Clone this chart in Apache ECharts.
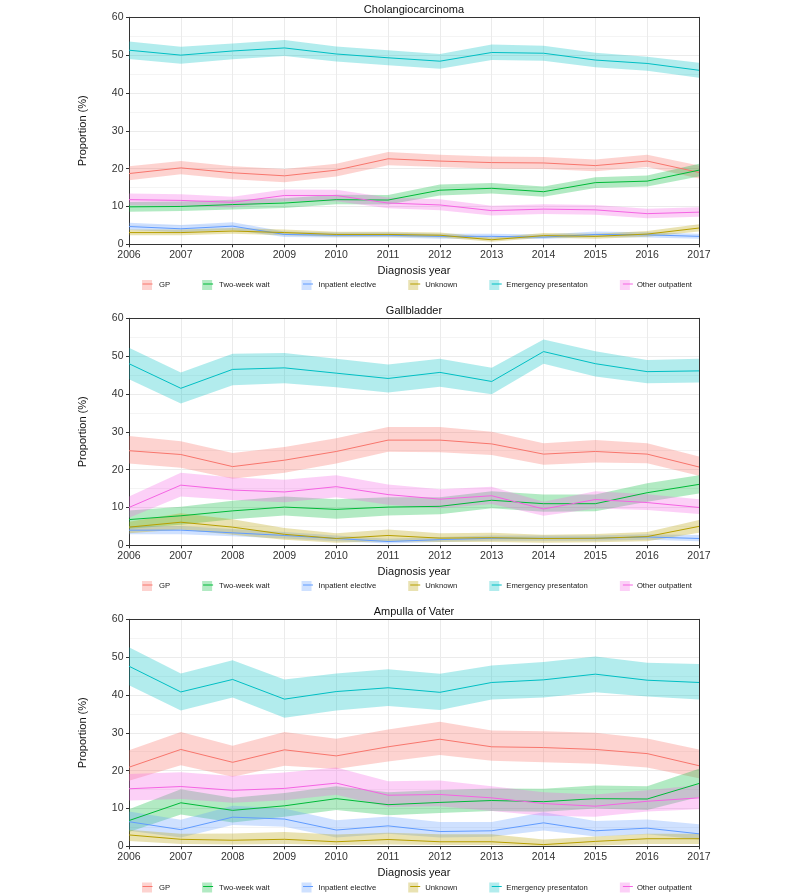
<!DOCTYPE html>
<html>
<head>
<meta charset="utf-8">
<script src="https://cdn.jsdelivr.net/npm/echarts@6/dist/echarts.min.js"></script>
<style>html,body{margin:0;padding:0;background:#fff}#c{width:787px;height:896px}</style>
</head>
<body>
<div id="c"></div>
<script>
const years = ['2006','2007','2008','2009','2010','2011','2012','2013','2014','2015','2016','2017'];
const categories = ['GP','Two-week wait','Inpatient elective','Unknown','Emergency presentaton','Other outpatient'];
const panelTitles = ['Cholangiocarcinoma','Gallbladder','Ampulla of Vater'];
const yTicks = [0,10,20,30,40,50,60];

// Cholangiocarcinoma
const cholGP     = [18.7,20.2,18.9,18.1,19.6,22.6,22.0,21.6,21.5,20.8,22.0,19.0];
const cholGPHi   = [20.6,22.0,20.6,19.9,21.3,24.4,23.7,23.2,23.1,22.4,23.7,20.8];
const cholGPLo   = [16.9,18.5,17.2,16.4,17.9,20.9,20.4,20.0,19.9,19.3,20.4,17.4];
const cholTWW    = [9.9,10.0,10.5,10.9,11.8,11.7,14.3,14.8,13.9,16.3,16.7,19.6];
const cholTWWHi  = [11.2,11.3,11.8,12.2,13.1,13.0,15.8,16.2,15.3,17.7,18.2,21.3];
const cholTWWLo  = [8.6,8.8,9.2,9.6,10.6,10.5,12.9,13.4,12.6,14.9,15.3,17.9];
const cholIE     = [4.7,4.1,4.8,2.6,2.4,2.4,2.1,2.1,1.9,2.6,2.5,2.1];
const cholIEHi   = [5.7,5.1,5.8,3.4,3.1,3.1,2.8,2.8,2.6,3.4,3.2,2.8];
const cholIELo   = [3.8,3.2,3.8,1.9,1.8,1.8,1.5,1.5,1.4,1.9,1.8,1.5];
const cholUNK    = [3.1,3.1,3.5,3.1,2.6,2.6,2.4,1.2,2.3,2.1,2.7,4.3];
const cholUNKHi  = [3.9,3.9,4.3,3.9,3.3,3.3,3.1,1.8,3.0,2.8,3.5,5.3];
const cholUNKLo  = [2.4,2.4,2.8,2.4,2.0,2.0,1.8,0.7,1.7,1.5,2.0,3.4];
const cholEP     = [51.3,50.0,51.1,51.9,50.3,49.3,48.4,50.7,50.5,48.7,47.8,46.0];
const cholEPHi   = [53.6,52.2,53.1,54.0,52.3,51.3,50.3,52.8,52.5,50.6,49.6,48.0];
const cholEPLo   = [49.0,47.7,48.9,49.8,48.3,47.3,46.4,48.7,48.5,46.8,45.9,44.0];
const cholOO     = [11.8,11.6,11.1,12.9,12.9,10.9,10.4,8.9,9.3,9.1,8.1,8.5];
const cholOOHi   = [13.4,13.2,12.6,14.5,14.4,12.4,11.9,10.2,10.6,10.4,9.4,9.8];
const cholOOLo   = [10.3,10.1,9.7,11.4,11.4,9.5,9.0,7.6,8.0,7.8,6.9,7.3];

// Gallbladder
const gallGP     = [25.0,24.0,20.8,22.5,24.8,27.8,27.8,26.8,24.1,24.8,24.1,20.7];
const gallGPHi   = [28.9,27.5,24.4,26.0,28.3,31.3,31.3,30.0,27.0,27.8,27.0,23.5];
const gallGPLo   = [21.6,20.5,17.6,19.2,21.6,24.7,24.6,23.9,21.3,21.9,21.7,18.4];
const gallTWW    = [6.8,7.8,9.1,10.1,9.5,10.1,10.3,11.9,11.0,11.0,13.9,16.1];
const gallTWWHi  = [9.2,10.2,11.8,12.9,12.2,12.7,12.7,14.3,13.4,13.4,16.4,18.5];
const gallTWWLo  = [4.4,5.4,6.9,7.9,7.0,7.9,8.2,9.8,8.9,9.0,11.5,13.7];
const gallIE     = [4.0,4.0,3.3,2.6,1.8,1.0,1.5,1.85,1.85,1.85,2.2,1.8];
const gallIEHi   = [5.1,5.1,4.3,3.5,2.6,1.7,2.2,2.6,2.6,2.6,2.9,2.7];
const gallIELo   = [2.9,2.9,2.4,1.8,1.1,0.5,0.9,1.2,1.2,1.2,1.5,1.1];
const gallUNK    = [4.8,6.1,4.8,2.9,1.8,2.6,1.9,2.0,1.8,1.85,2.3,5.0];
const gallUNKHi  = [6.2,8.5,6.9,4.6,3.2,4.2,3.2,3.3,2.8,3.0,3.5,6.7];
const gallUNKLo  = [3.2,4.2,2.8,1.5,0.7,1.1,0.9,0.9,0.7,0.8,1.1,3.3];
const gallEP     = [48.0,41.5,46.5,46.9,45.5,44.1,45.7,43.3,51.2,48.0,45.9,46.1];
const gallEPHi   = [52.2,45.7,50.6,50.8,49.3,47.8,49.3,46.9,54.4,51.3,49.0,49.3];
const gallEPLo   = [43.9,37.5,42.3,42.8,41.8,40.4,41.9,39.9,48.0,44.6,42.8,43.0];
const gallOO     = [10.0,15.9,14.6,14.1,15.5,13.4,12.2,13.1,9.6,12.1,11.3,10.0];
const gallOOHi   = [12.9,19.2,17.9,17.3,18.5,16.1,14.8,15.5,11.5,14.3,13.5,12.2];
const gallOOLo   = [7.3,12.9,12.0,11.4,12.7,10.7,9.8,10.9,7.8,9.7,9.3,8.3];

// Ampulla of Vater
const ampGP      = [20.9,25.6,22.2,25.5,23.9,26.3,28.3,26.3,26.1,25.6,24.5,21.3];
const ampGPHi    = [25.4,30.2,26.6,30.2,28.4,30.9,32.9,30.6,30.4,30.0,28.5,25.6];
const ampGPLo    = [17.3,21.4,18.4,21.3,20.4,22.4,24.1,22.6,22.2,21.8,20.8,18.0];
const ampTWW     = [6.8,11.5,9.5,10.7,12.6,11.0,11.6,12.1,11.8,12.6,12.5,16.6];
const ampTWWHi   = [9.8,15.1,12.8,14.1,15.9,14.3,14.9,15.3,15.2,16.1,15.9,20.5];
const ampTWWLo   = [3.8,8.4,6.3,7.8,9.6,8.2,8.8,9.3,9.1,10.0,9.6,13.0];
const ampIE      = [6.5,4.4,7.7,7.2,4.3,5.4,3.9,4.1,6.2,4.1,4.8,3.3];
const ampIEHi    = [9.2,7.0,10.7,10.0,6.9,7.9,6.4,6.4,9.0,6.7,7.1,5.8];
const ampIELo    = [4.1,2.3,5.6,5.2,2.3,3.3,2.3,2.5,4.2,2.6,3.2,1.8];
const ampUNK     = [3.0,1.85,1.6,1.85,1.2,1.8,1.2,1.2,0.45,1.3,2.0,2.0];
const ampUNKHi   = [4.4,3.3,3.4,3.8,3.1,3.6,3.2,3.2,1.8,2.6,3.3,3.3];
const ampUNKLo   = [1.4,0.6,0.5,0.6,0.35,0.45,0.35,0.35,0.0,0.2,0.6,0.6];
const ampEP      = [47.6,40.8,44.1,38.9,40.9,41.9,40.7,43.3,44.0,45.5,43.9,43.3];
const ampEPHi    = [52.6,45.7,49.2,44.1,45.7,46.8,45.6,47.8,48.7,50.2,48.5,48.2];
const ampEPLo    = [42.6,35.9,39.3,34.0,35.9,37.1,36.0,38.8,39.3,40.7,39.6,38.8];
const ampOO      = [15.2,15.8,14.8,15.3,16.7,13.5,13.7,12.8,11.3,10.6,11.9,12.8];
const ampOOHi    = [19.1,19.6,18.6,19.5,20.8,17.2,17.4,15.9,14.3,13.7,14.8,16.2];
const ampOOLo    = [12.1,12.5,11.5,12.2,13.6,10.4,10.6,9.3,8.1,7.8,9.2,9.8];

const lineColors = ['#F8766D','#00BA38','#619CFF','#B79F00','#00BFC4','#F564E3'];
const bandColors = ['rgba(248,118,109,0.32)','rgba(0,186,56,0.3)','rgba(97,156,255,0.3)','rgba(183,159,0,0.3)','rgba(0,191,196,0.3)','rgba(245,100,227,0.3)'];

const panels = [
  { mid:[cholGP,cholTWW,cholIE,cholUNK,cholEP,cholOO], lo:[cholGPLo,cholTWWLo,cholIELo,cholUNKLo,cholEPLo,cholOOLo], hi:[cholGPHi,cholTWWHi,cholIEHi,cholUNKHi,cholEPHi,cholOOHi] },
  { mid:[gallGP,gallTWW,gallIE,gallUNK,gallEP,gallOO], lo:[gallGPLo,gallTWWLo,gallIELo,gallUNKLo,gallEPLo,gallOOLo], hi:[gallGPHi,gallTWWHi,gallIEHi,gallUNKHi,gallEPHi,gallOOHi] },
  { mid:[ampGP,ampTWW,ampIE,ampUNK,ampEP,ampOO], lo:[ampGPLo,ampTWWLo,ampIELo,ampUNKLo,ampEPLo,ampOOLo], hi:[ampGPHi,ampTWWHi,ampIEHi,ampUNKHi,ampEPHi,ampOOHi] }
];

const FONT = "'Liberation Sans', Arial, sans-serif";
const gridTops = [17.3, 318.3, 619.3];
const gridH = 227;
const gridLeft = 129, gridRight = 88;
const titleTops = [4.5, 305.5, 606.5];
const legendTops = [280, 581, 882.5];

const option = {
  animation: false,
  backgroundColor: '#fff',
  textStyle: { fontFamily: FONT },
  title: [], grid: [], xAxis: [], yAxis: [], legend: [], series: []
};

const frameLine = { show: true, onZero: false, lineStyle: { color: '#333', width: 1 } };

panels.forEach((p, i) => {
  option.title.push({
    text: panelTitles[i], left: 414, top: titleTops[i], textAlign: 'center', padding: 0,
    textStyle: { fontSize: 11, fontWeight: 'normal', color: '#111', fontFamily: FONT }
  });
  option.grid.push({
    left: gridLeft, right: gridRight, top: gridTops[i], height: gridH, show: false
  });
  // bottom x axis
  option.xAxis.push({
    type: 'category', gridIndex: i, data: years, boundaryGap: false, position: 'bottom',
    name: 'Diagnosis year', nameLocation: 'middle', nameGap: 21,
    nameTextStyle: { fontSize: 11, color: '#111', fontFamily: FONT },
    axisLine: frameLine,
    axisTick: { show: true, length: 3, lineStyle: { color: '#333' } },
    axisLabel: { interval: 0, margin: 5.5, fontSize: 10.5, color: '#333', fontFamily: FONT },
    splitLine: { show: true, interval: 0, lineStyle: { color: '#ebebeb', width: 1 } }
  });
  // top frame line
  option.xAxis.push({
    type: 'category', gridIndex: i, data: years, boundaryGap: false, position: 'top',
    axisLine: frameLine, axisTick: { show: false }, axisLabel: { show: false }, splitLine: { show: false }
  });
  option.yAxis.push({
    type: 'value', gridIndex: i, min: yTicks[0], max: yTicks[yTicks.length-1], interval: 10, position: 'left',
    name: 'Proportion (%)', nameLocation: 'middle', nameGap: 41,
    nameTextStyle: { fontSize: 11, color: '#111', fontFamily: FONT },
    axisLine: frameLine,
    axisTick: { show: true, length: 3, lineStyle: { color: '#333' } },
    axisLabel: { margin: 5.5, fontSize: 10.5, color: '#333', fontFamily: FONT },
    splitLine: { show: true, lineStyle: { color: '#ebebeb', width: 1 } },
    minorTick: { show: false, splitNumber: 2 },
    minorSplitLine: { show: true, lineStyle: { color: '#f4f4f4', width: 1 } }
  });
  // right frame line
  option.yAxis.push({
    type: 'value', gridIndex: i, min: yTicks[0], max: yTicks[yTicks.length-1], interval: 10, position: 'right',
    axisLine: frameLine, axisTick: { show: false }, axisLabel: { show: false }, splitLine: { show: false }
  });
  const legendCommon = {
    orient: 'horizontal', left: 142, top: legendTops[i], itemWidth: 10, itemHeight: 10, itemGap: 32,
    selectedMode: false, padding: 0
  };
  option.legend.push(Object.assign({}, legendCommon, {
    icon: 'rect',
    data: categories.map((c, k) => ({ name: c, itemStyle: { color: bandColors[k] } })),
    textStyle: { fontSize: 7.7, color: '#222', fontFamily: FONT, padding: [0, 0, 0, 2] }
  }));
  option.legend.push(Object.assign({}, legendCommon, {
    data: categories.slice(),
    itemStyle: { color: 'rgba(0,0,0,0)', borderWidth: 0 },
    lineStyle: { width: 1 },
    textStyle: { fontSize: 7.7, color: 'rgba(0,0,0,0)', fontFamily: FONT, padding: [0, 0, 0, 2] }
  }));

  const xi = i * 2, yi = i * 2;
  categories.forEach((c, k) => {
    const stackId = 'p' + i + 'c' + k;
    option.series.push({
      name: c + ' lower ' + i, type: 'line', xAxisIndex: xi, yAxisIndex: yi, stack: stackId,
      data: p.lo[k], symbol: 'none', silent: true, lineStyle: { opacity: 0, width: 0 }, z: 1
    });
    option.series.push({
      name: c + ' band ' + i, type: 'line', xAxisIndex: xi, yAxisIndex: yi, stack: stackId,
      data: p.hi[k].map((v, j) => +(v - p.lo[k][j]).toFixed(3)), symbol: 'none', silent: true,
      lineStyle: { opacity: 0, width: 0 }, areaStyle: { color: bandColors[k], opacity: 1 }, z: 1
    });
  });
});

panels.forEach((p, i) => {
  categories.forEach((c, k) => {
    option.series.push({
      name: c, type: 'line', xAxisIndex: i * 2, yAxisIndex: i * 2, data: p.mid[k],
      symbol: 'none', color: lineColors[k], lineStyle: { color: lineColors[k], width: 1 }, z: 3
    });
  });
});

const chart = echarts.init(document.getElementById('c'), null, { renderer: 'canvas' });
chart.setOption(option);
</script>
</body>
</html>
